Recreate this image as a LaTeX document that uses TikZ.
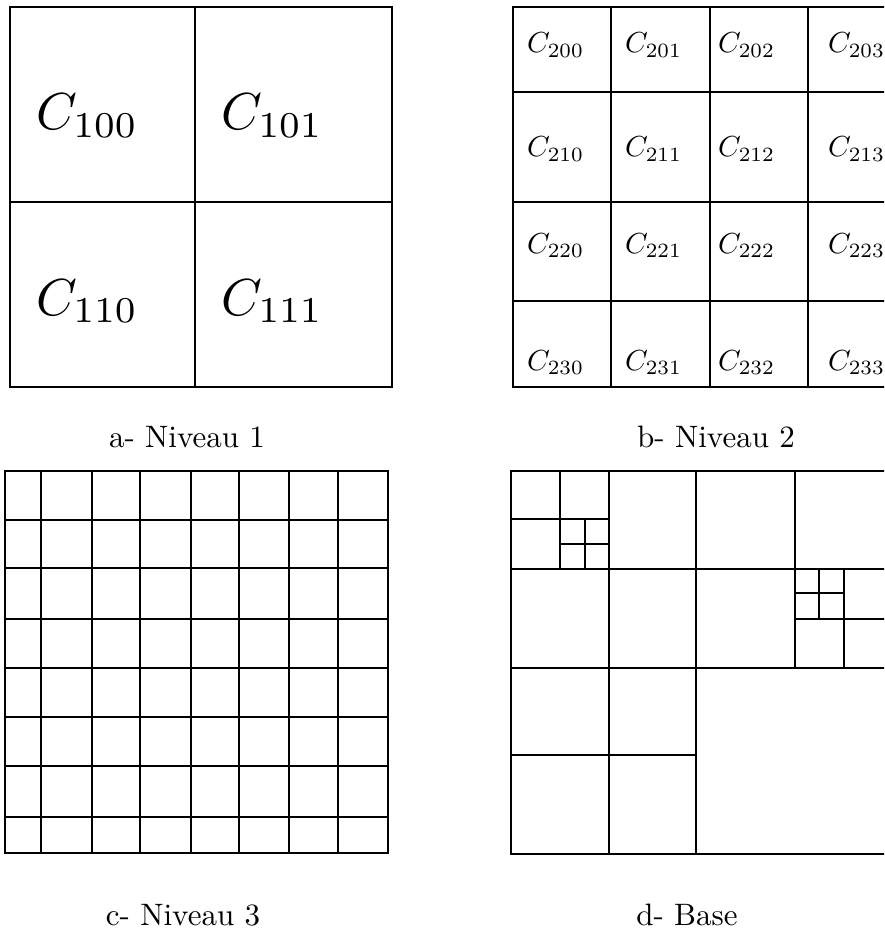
\documentclass[tikz,border=0pt]{standalone}
\usepackage{graphicx}
\begin{document}
\begin{tikzpicture}[x=1pt,y=-1pt,
  gridline/.style={line width=2.2pt, black},
  outerline/.style={line width=2.6pt, black},
  lab/.style={anchor=base west, inner sep=0pt},
  caplab/.style={anchor=base, inner sep=0pt}]
\newcommand\biglabel[1]{\scalebox{5.2}{$C_{#1}$}}
\newcommand\smalllabel[1]{\scalebox{2.9}{$C_{#1}$}}
\newcommand\captext[1]{\scalebox{3.1}{#1}}
\fill[white] (0,0) rectangle (884,931);
\clip (0,0) rectangle (884,931);

% ---------- a- Niveau 1
\draw[gridline] (195,7) -- (195,387) (10,202) -- (392,202);
\draw[outerline] (10,7) rectangle (392,387);
\node[lab] (c100) at (36,130) {\biglabel{100}};
\node[lab] (c101) at (221,130) {\biglabel{101}};
\node[lab] (c110) at (36,315) {\biglabel{110}};
\node[lab] (c111) at (221,315) {\biglabel{111}};
\node[caplab] (capa) at (187,447) {\captext{a- Niveau 1}};

% ---------- b- Niveau 2
\foreach \x in {611,710,808} \draw[gridline] (\x,7) -- (\x,387);
\foreach \y in {92,202,301} \draw[gridline] (513,\y) -- (906,\y);
\draw[outerline] (513,7) rectangle (906,387);
\foreach \r/\yy in {0/53,1/157,2/253,3/370}{
  \foreach \c/\xx in {0/527,1/625,2/718,3/828}{
    \node[lab] (c2\r\c) at (\xx,\yy) {\smalllabel{2\r\c}};
  }
}
\node[caplab] (capb) at (716,447) {\captext{b- Niveau 2}};

% ---------- c- Niveau 3
\foreach \x in {41,92,140,191,239,289,338} \draw[gridline] (\x,471) -- (\x,853);
\foreach \y in {520,568,619,668,717,766,817} \draw[gridline] (5,\y) -- (388,\y);
\draw[outerline] (5,471) rectangle (388,853);
\node[caplab] (capc) at (183,925) {\captext{c- Niveau 3}};

% ---------- d- Base
\draw[gridline] (511,569) -- (893,569) (511,668) -- (893,668);
\draw[gridline] (609,471) -- (609,854) (696,471) -- (696,854) (795,471) -- (795,668);
\draw[gridline] (560,471) -- (560,569) (511,519) -- (609,519);
\draw[gridline] (585,519) -- (585,569) (560,544) -- (609,544);
\draw[gridline] (844,569) -- (844,668) (795,619) -- (893,619);
\draw[gridline] (819,569) -- (819,619) (795,593) -- (844,593);
\draw[gridline] (511,755) -- (696,755);
\draw[outerline] (511,471) rectangle (893,854);
\node[caplab] (capd) at (687,925) {\captext{d- Base}};
\end{tikzpicture}
\end{document}
